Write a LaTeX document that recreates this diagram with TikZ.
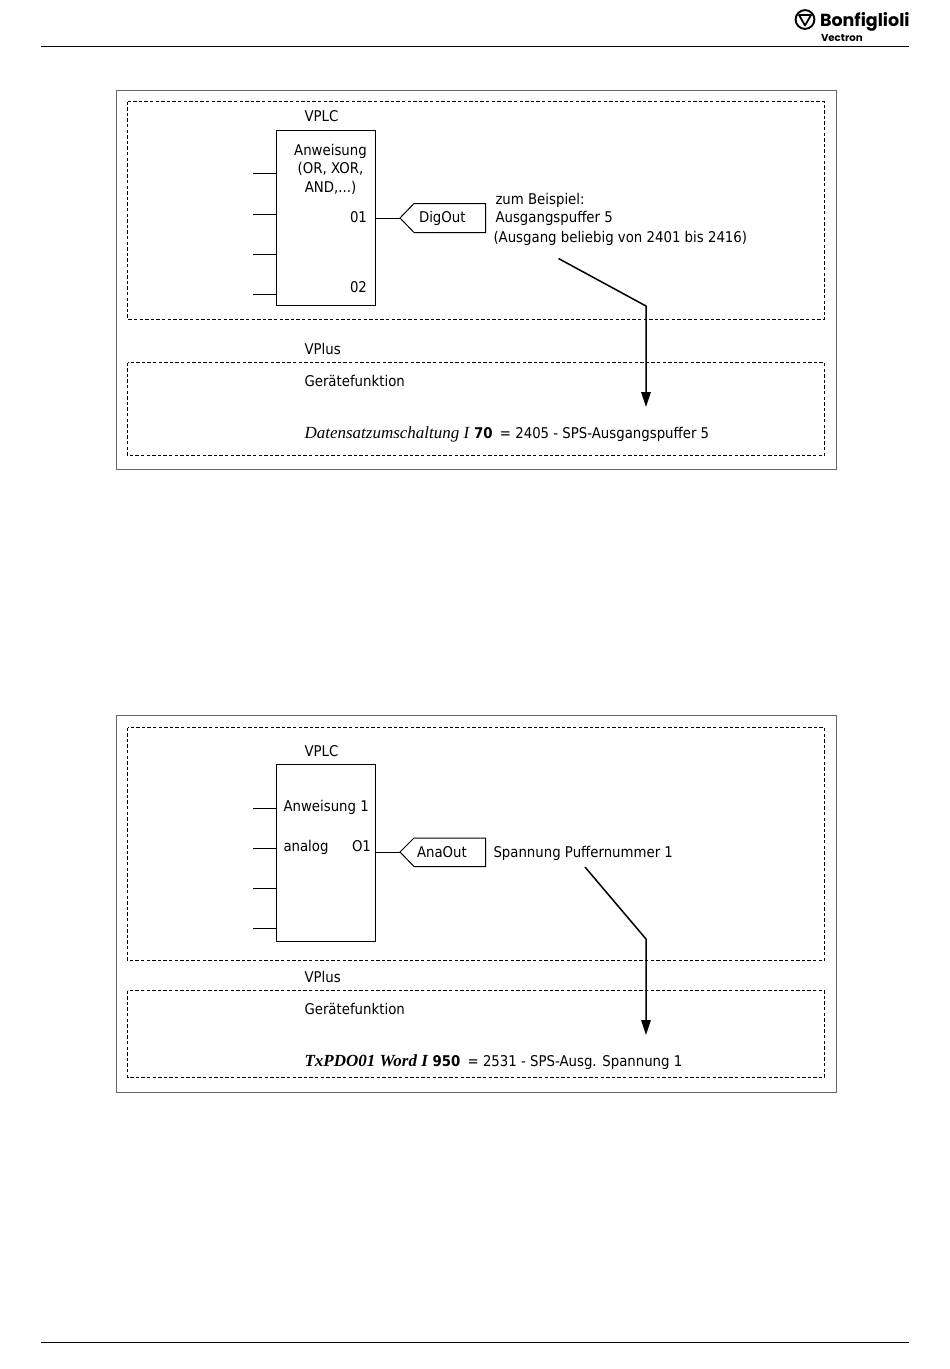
\documentclass[tikz,border=0pt]{standalone}
\usepackage{fontspec}
\setmainfont{DejaVu Sans Condensed}
\newfontfamily\timesit{Liberation Serif}
\newfontfamily\logofont{Poppins}
\usetikzlibrary{arrows.meta}
\tikzset{
  x=1pt,y=-1pt,
  rule/.style={line width=1pt,black},
  outer/.style={draw=black!60,line width=1pt},
  zone/.style={draw=black,line width=.9pt,dash pattern=on 3.4pt off 2.2pt},
  block/.style={draw=black,line width=1pt},
  boxnode/.style={block,inner sep=0pt,outer sep=0pt,anchor=north west,minimum width=99pt},
  wire/.style={black,line width=1pt},
  flow/.style={black,line width=1.5pt,-{Triangle[length=15pt,width=9.5pt]}},
  lbl/.style={anchor=base west,inner sep=0pt,outer sep=0pt,font=\fontsize{14.8}{17}\selectfont,text=black},
  clbl/.style={lbl,anchor=base,align=center}
}
\newcommand{\serifit}{\timesit\itshape\fontsize{17}{18}\selectfont}
\begin{document}
\begin{tikzpicture}
\useasboundingbox (0,0) rectangle (950,1369);
\fill[white] (0,0) rectangle (950,1369);
% header, footer
\coordinate (hl) at (41,46); \coordinate (hr) at (909,46);
\coordinate (fl) at (41,1342); \coordinate (fr) at (909,1342);
\draw[rule] (hl) -- (hr);
\draw[rule] (fl) -- (fr);
% logo
\draw[line width=1.9pt] (805,19.5) circle (9.4);
\draw[line width=1.8pt,line join=round] (799,15) -- (811,15) -- (805,25.5) -- cycle;
\node[lbl,font=\logofont\bfseries\fontsize{17.5}{20}\selectfont] (logo) at (820,26) {Bonfiglioli};
\node[lbl,font=\logofont\bfseries\fontsize{10.2}{12}\selectfont] (logosub) at (821,41) {Vectron};

% ---------- first diagram
\draw[outer] (116.5,90.5) rectangle (836.5,469.5);
\draw[zone] (127.5,101.5) rectangle (824.5,319);
\draw[zone] (127.5,362.5) rectangle (824.5,455.5);
\node[lbl] (a1) at (304.5,121.5) {VPLC};
\node[boxnode,minimum height=175.5pt] (b1) at (276,130) {};
\foreach \y/\n in {173.5/p,214/q,254.5/r,294.5/s}{
  \coordinate (\n1) at (253,\y);
  \draw[wire] (\n1) -- (\n1 -| b1.west);
}
\node[clbl] (an1) at (330.5,155) {Anweisung};
\node[clbl] (an2) at (330.5,173.5) {(OR, XOR,};
\node[clbl] (an3) at (330.5,192) {AND,...)};
\node[lbl] (o1) at (350,222.5) {01};
\node[lbl] (o2) at (350,292) {02};
\draw[block,line join=miter] (485.5,203.5) -- (414,203.5) -- (400,218) -- (414,232.5) -- (485.5,232.5) -- cycle;
\coordinate (tag1) at (400,218);
\draw[wire] (b1.east |- tag1) -- (tag1);
\node[lbl] (dig) at (419,222.5) {DigOut};
\node[lbl] (t1) at (495.5,204) {zum Beispiel:};
\node[lbl] (t2) at (495.5,222.5) {Ausgangspuffer 5};
\node[lbl] (t3) at (493.5,242.5) {(Ausgang beliebig von 2401 bis 2416)};
\coordinate (s1) at (558.5,258.5);
\coordinate (k1) at (646,306);
\coordinate (e1) at (646,407);
\draw[flow,line join=miter] (s1) -- (k1) -- (e1);
\node[lbl] (vp1) at (304.5,354) {VPlus};
\node[lbl] (g1) at (304.5,386) {Gerätefunktion};
\node[lbl] (f1) at (304.5,438) {{\serifit Datensatzumschaltung I} \textbf{70}\hspace{3pt} = 2405 - SPS-Ausgangspuffer 5};

% ---------- second diagram
\draw[outer] (116.5,715) rectangle (836.5,1092.5);
\draw[zone] (127.5,727.5) rectangle (824.5,960.5);
\draw[zone] (127.5,990.5) rectangle (824.5,1077.5);
\node[lbl] (a2) at (304.5,756.5) {VPLC};
\node[boxnode,minimum height=177pt] (b2) at (276,764) {};
\foreach \y/\n in {808/p,848/q,888/r,928.5/s}{
  \coordinate (\n2) at (253,\y);
  \draw[wire] (\n2) -- (\n2 -| b2.west);
}
\node[lbl] (an4) at (283.5,811) {Anweisung 1};
\node[lbl] (an5) at (283.5,851) {analog};
\node[lbl] (o3) at (352,851) {O1};
\draw[block,line join=miter] (485.5,838) -- (414,838) -- (400,852) -- (414,866.5) -- (485.5,866.5) -- cycle;
\coordinate (tag2) at (400,852);
\draw[wire] (b2.east |- tag2) -- (tag2);
\node[lbl] (ana) at (417,857) {AnaOut};
\node[lbl] (t4) at (493.5,857) {Spannung Puffernummer 1};
\coordinate (s2) at (585,867);
\coordinate (k2) at (646,939);
\coordinate (e2) at (646,1035);
\draw[flow,line join=miter] (s2) -- (k2) -- (e2);
\node[lbl] (vp2) at (304.5,982) {VPlus};
\node[lbl] (g2) at (304.5,1014) {Gerätefunktion};
\node[lbl] (f2) at (304.5,1066) {{\serifit\bfseries TxPDO01 Word I} \textbf{950}\hspace{3pt} = 2531 - SPS-Ausg. Spannung 1};
\end{tikzpicture}
\end{document}
